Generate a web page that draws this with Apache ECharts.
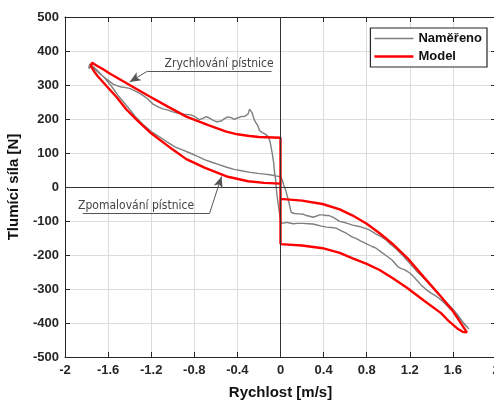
<!DOCTYPE html>
<html>
<head>
<meta charset="utf-8">
<script src="https://cdn.jsdelivr.net/npm/echarts@6/dist/echarts.min.js"></script>
<style>
html,body{margin:0;padding:0;background:#fff;}
#chart{width:494px;height:400px;}
</style>
</head>
<body>
<div id="chart"></div>
<script>
// ---- tick labels ----
const xTicks = [-2, -1.6, -1.2, -0.8, -0.4, 0, 0.4, 0.8, 1.2, 1.6, 2];
const yTicks = [-500, -400, -300, -200, -100, 0, 100, 200, 300, 400, 500];

// ---- measured (Naměřeno) loop: velocity [m/s], force [N] ----
const measV = [
 -1.78,-1.77,-1.745,-1.70,-1.65,-1.60,-1.585,-1.55,-1.52,-1.49,-1.45,-1.40,-1.36,-1.31,-1.27,-1.23,-1.18,-1.13,-1.09,-1.045,-1.00,-0.95,-0.90,-0.86,-0.83,
 -0.79,-0.755,-0.72,-0.69,-0.66,-0.62,-0.59,-0.55,-0.52,-0.49,-0.457,-0.43,-0.40,-0.364,-0.33,-0.30,-0.287,-0.265,-0.24,-0.21,-0.195,-0.17,-0.148,-0.125,-0.11,
 -0.095,-0.08,-0.065,-0.056,-0.045,-0.034,-0.016,0.006,0.03,0.06,0.083,0.12,0.16,0.21,0.26,0.30,0.33,0.38,0.43,0.47,0.516,0.56,0.61,0.66,0.70,0.75,0.80,0.85,0.887,
 0.93,0.995,1.04,1.087,1.12,1.15,1.18,1.20,1.23,1.27,1.31,1.35,1.40,1.44,1.49,1.53,1.58,1.62,1.675,1.71,1.75,1.765,
 1.74,1.69,1.64,1.59,1.54,1.49,1.44,1.38,1.32,1.27,1.23,1.18,1.13,1.07,1.02,0.98,0.93,0.88,0.825,0.78,0.73,0.67,0.62,0.58,0.547,0.51,0.48,0.45,0.42,0.39,0.36,0.33,0.30,0.27,0.24,0.21,0.17,0.13,0.10,
 0.09,0.08,0.068,0.05,0.03,0.015,0.0,-0.03,-0.06,-0.10,-0.15,-0.21,-0.28,-0.35,-0.43,-0.50,-0.57,-0.63,-0.70,-0.77,-0.84,-0.90,-0.98,-1.05,-1.12,-1.20,-1.27,-1.35,-1.42,-1.50,-1.57,-1.63,-1.70,-1.75,-1.78
];
const measF = [
 350,362,352,340,326,314,310,302,298,295,293,290,284,276,268,258,243,235,230,226,221,217,214,213,212,
 206,198,202,207,203,195,192,194,201,206,204,199,203,207,208,215,229,219,195,180,166,160,157,152,146,
 130,105,75,45,20,-20,-63,-107,-106,-104,-106,-108,-107,-107,-108,-109,-111,-115,-118,-119,-121,-128,-136,-146,-151,-160,-167,-175,-180,
 -190,-205,-216,-234,-240,-243,-249,-253,-262,-276,-290,-301,-313,-320,-332,-344,-360,-372,-391,-405,-418,-422,
 -420,-396,-374,-356,-340,-322,-305,-285,-265,-250,-235,-218,-200,-181,-168,-156,-145,-137,-126,-121,-116,-112,-107,-103,-101,-93,-88,-84,-84,-82,-82,-86,-89,-86,-84,-80,-79,-78,-75,
 -62,-48,-33,-12,6,22,30,32,34,36,38,40,43,47,52,58,66,72,80,90,100,108,118,132,147,163,182,208,236,266,297,320,343,357,348
];

// ---- model (Model) loop ----
const modelV = [
 0, 0, -0.2, -0.287, -0.4, -0.503, -0.67, -0.874, -1.05, -1.214, -1.4, -1.585, -1.65, -1.70, -1.73, -1.75, -1.765, -1.76,
 -1.73, -1.70, -1.615, -1.52, -1.43, -1.32, -1.2, -1.0, -0.874, -0.7, -0.5, -0.3, -0.15, 0,
 0, 0.2, 0.39, 0.55, 0.67, 0.8, 0.92, 1.05, 1.18, 1.33, 1.49, 1.6, 1.675, 1.71, 1.73, 1.735,
 1.72, 1.69, 1.64, 1.56, 1.49, 1.33, 1.18, 1.05, 0.92, 0.8, 0.67, 0.55, 0.39, 0.2, 0, 0
];
const modelF = [
 -168, 145, 147, 150, 155, 163, 182, 207, 237, 266, 300, 334, 347, 356, 362, 365, 362, 356,
 340, 327, 297, 264, 228, 193, 158, 110, 82, 56, 31, 17, 12, 10,
 -35, -40, -50, -66, -84, -108, -136, -170, -210, -265, -323, -365, -401, -418, -427, -431,
 -431, -426, -416, -394, -371, -334, -298, -270, -244, -226, -210, -194, -180, -172, -168, -168
];

// ---- annotations (data coordinates) ----
const annotAccel = {text: 'Zrychlování pístnice', lineFrom: [-1.233, 341], lineTo: [-0.083, 341], bend: [-1.233, 341], arrowTip: [-1.40, 309], textAt: [-0.57, 361]};
const annotDecel = {text: 'Zpomalování pístnice', lineFrom: [-1.835, -77], lineTo: [-0.658, -77], bend: [-0.658, -77], arrowTip: [-0.547, 31], textAt: [-1.34, -56]};

const zip = (a, b) => a.map((v, i) => [v, b[i]]);

const chart = echarts.init(document.getElementById('chart'), null, {renderer: 'canvas'});
const axisColor = '#262626';
const lblFont = {fontFamily: 'Liberation Sans, Arial, sans-serif', fontWeight: 'bold', fontSize: 13, color: axisColor};

function annotSeries(a) {
  return {
    type: 'line', data: [], silent: true, z: 5,
    markLine: {
      silent: true, animation: false, symbolSize: [7, 11],
      label: {show: false},
      lineStyle: {color: '#555', width: 1, type: 'solid'},
      data: [
        [{coord: a.lineFrom, symbol: 'none'}, {coord: a.lineTo, symbol: 'none'}],
        [{coord: a.bend, symbol: 'none'}, {coord: a.arrowTip, symbol: 'arrow', itemStyle: {color: '#000'}}]
      ]
    },
    markPoint: {
      silent: true, animation: false, symbol: 'circle', symbolSize: 0,
      label: {show: true, position: 'inside', formatter: a.text,
        fontFamily: 'Liberation Sans Narrow, DejaVu Sans Condensed, sans-serif', fontSize: 12, color: '#444'},
      data: [{coord: a.textAt}]
    }
  };
}

chart.setOption({
  animation: false,
  backgroundColor: '#fff',
  grid: {left: 65, right: -2, top: 17, bottom: 43, containLabel: false, outerBoundsMode: 'none'},
  legend: {
    data: [
      {name: 'Naměřeno', icon: 'path://M0,0H40V1.4H0Z', itemStyle: {color: '#7f7f7f'}},
      {name: 'Model', icon: 'path://M0,0H40V2.6H0Z', itemStyle: {color: '#ff0000'}}
    ],
    orient: 'vertical', right: 7, top: 28,
    backgroundColor: '#fff', borderColor: axisColor, borderWidth: 1.2,
    padding: [4, 5, 4, 4], itemGap: 5, itemWidth: 39, itemHeight: 10,
    textStyle: {fontFamily: 'Liberation Sans, Arial, sans-serif', fontWeight: 'bold', fontSize: 13, color: '#111'}
  },
  xAxis: [{
    type: 'value', min: xTicks[0], max: xTicks[xTicks.length - 1], interval: 0.4,
    name: 'Rychlost [m/s]', nameLocation: 'middle', nameGap: 28,
    nameTextStyle: {fontFamily: 'Liberation Sans, Arial, sans-serif', fontWeight: 'bold', fontSize: 15, color: '#111'},
    axisLine: {show: true, onZero: false, lineStyle: {color: axisColor, width: 1}},
    axisTick: {show: true, inside: true, length: 5, lineStyle: {color: axisColor}},
    axisLabel: Object.assign({margin: 7, formatter: v => String(+v.toFixed(1))}, lblFont),
    splitLine: {show: true, lineStyle: {color: '#dcdcdc', width: 1}}
  }, {
    type: 'value', position: 'top', min: xTicks[0], max: xTicks[xTicks.length - 1], interval: 0.4,
    axisLine: {show: true, onZero: false, lineStyle: {color: axisColor, width: 1}},
    axisTick: {show: true, inside: true, length: 5, lineStyle: {color: axisColor}},
    axisLabel: {show: false}, splitLine: {show: false}
  }],
  yAxis: [{
    type: 'value', min: yTicks[0], max: yTicks[yTicks.length - 1], interval: 100,
    name: 'Tlumící síla [N]', nameLocation: 'middle', nameGap: 44, nameRotate: 90,
    nameTextStyle: {fontFamily: 'Liberation Sans, Arial, sans-serif', fontWeight: 'bold', fontSize: 15, color: '#111'},
    axisLine: {show: true, onZero: false, lineStyle: {color: axisColor, width: 1}},
    axisTick: {show: true, inside: true, length: 5, lineStyle: {color: axisColor}},
    axisLabel: Object.assign({margin: 6}, lblFont),
    splitLine: {show: true, lineStyle: {color: '#dcdcdc', width: 1}}
  }, {
    type: 'value', position: 'right', min: yTicks[0], max: yTicks[yTicks.length - 1], interval: 100,
    axisLine: {show: true, onZero: false, lineStyle: {color: axisColor, width: 1}},
    axisTick: {show: true, inside: true, length: 5, lineStyle: {color: axisColor}},
    axisLabel: {show: false}, splitLine: {show: false}
  }],
  series: [
    {
      name: 'zero', type: 'line', data: [], silent: true, z: 1,
      markLine: {
        silent: true, animation: false, symbol: 'none', label: {show: false},
        lineStyle: {color: '#333', width: 1, type: 'solid'},
        data: [{xAxis: 0}, {yAxis: 0}]
      }
    },
    {
      name: 'Naměřeno', type: 'line', data: zip(measV, measF), symbol: 'none', z: 3,
      lineStyle: {color: '#7f7f7f', width: 1.4}, itemStyle: {color: '#7f7f7f'}
    },
    {
      name: 'Model', type: 'line', data: zip(modelV, modelF), symbol: 'none', z: 4, smooth: false,
      lineStyle: {color: '#ff0000', width: 2.4}, itemStyle: {color: '#ff0000'}
    },
    annotSeries(annotAccel),
    annotSeries(annotDecel)
  ]
});
</script>
</body>
</html>
